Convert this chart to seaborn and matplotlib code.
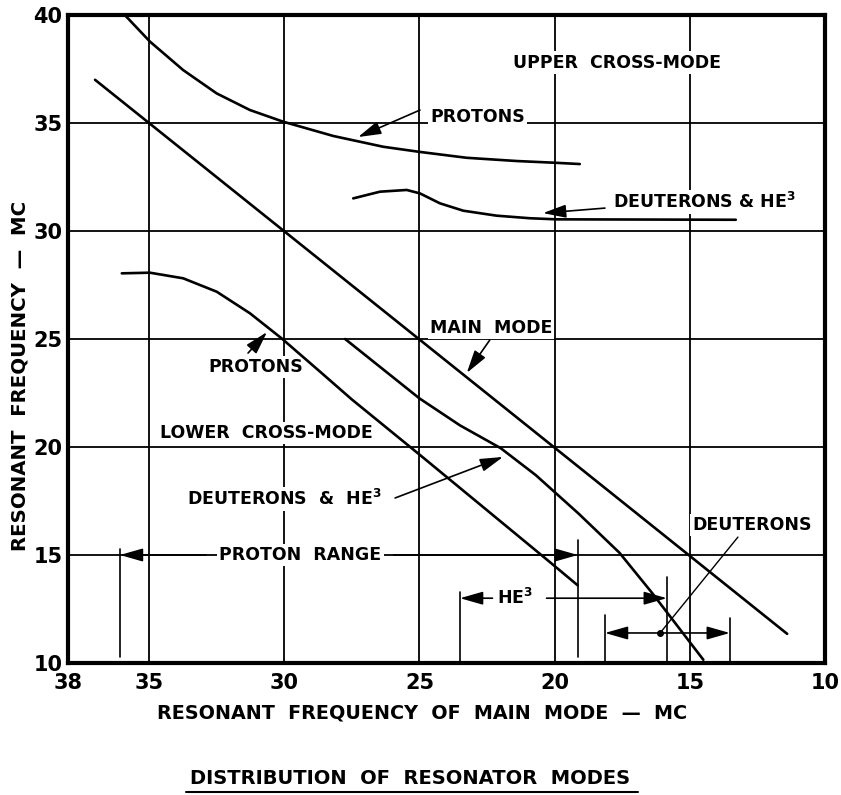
import matplotlib
matplotlib.use("Agg")
import matplotlib.pyplot as plt
import seaborn as sns
import pandas as pd

# ---------------- data ----------------
main_x = [37.0, 11.4]
main_y = [37.0, 11.35]
up_p_x = [35.9, 34.97, 33.74, 32.5, 31.27, 30.04, 28.19, 26.34, 25.04, 23.26, 21.41, 20.0, 19.07]
up_p_y = [40.0, 38.77, 37.45, 36.37, 35.6, 35.06, 34.4, 33.9, 33.67, 33.39, 33.24, 33.16, 33.1]
up_d_x = [27.45, 26.46, 25.47, 24.98, 24.24, 23.38, 22.15, 20.91, 19.93, 13.3]
up_d_y = [31.51, 31.82, 31.9, 31.74, 31.28, 30.94, 30.71, 30.59, 30.54, 30.52]
lo_p_x = [36.01, 34.97, 33.74, 32.5, 31.27, 30.1, 28.68, 27.5, 25.0, 20.3, 19.15]
lo_p_y = [28.04, 28.07, 27.81, 27.19, 26.19, 25.03, 23.49, 22.2, 19.65, 14.8, 13.6]
lo_d_x = [27.75, 25.0, 23.5, 22.0, 20.7, 19.1, 17.6, 16.4, 14.5]
lo_d_y = [25.0, 22.25, 21.0, 19.95, 18.7, 16.9, 15.1, 13.25, 10.15]

x_ticks = [38, 35, 30, 25, 20, 15, 10]
y_ticks = [10, 15, 20, 25, 30, 35, 40]

# ranges (main-mode frequency)
proton_range = (36.08, 19.14)
he3_range = (23.5, 15.85)
deut_range = (18.14, 13.52)

curves = {
    "main": (main_x, main_y),
    "upper_protons": (up_p_x, up_p_y),
    "upper_deut": (up_d_x, up_d_y),
    "lower_protons": (lo_p_x, lo_p_y),
    "lower_deut": (lo_d_x, lo_d_y),
}
rows = []
for name, (xs, ys) in curves.items():
    for i, (a, b) in enumerate(zip(xs, ys)):
        rows.append({"curve": name, "order": i, "x": a, "y": b})
df = pd.DataFrame(rows)

# ---------------- figure ----------------
sns.set_style("white")
plt.rcParams["font.family"] = ["DejaVu Sans"]
plt.rcParams["text.color"] = "black"
fig = plt.figure(figsize=(8.41, 7.95), dpi=100)
ax = fig.add_axes([68 / 841, 1 - 663 / 795, (825 - 68) / 841, (663 - 15) / 795])

for name in curves:
    sub = df[df["curve"] == name]
    sns.lineplot(data=sub, x="x", y="y", sort=False, estimator=None,
                 color="black", lw=1.9, ax=ax, zorder=5)

ax.set_xlim(38, 10)
ax.set_ylim(10, 40)
ax.set_xticks(x_ticks)
ax.set_yticks(y_ticks)
ax.set_xticklabels([str(t) for t in x_ticks], fontsize=15, fontweight="bold", color="black")
ax.set_yticklabels([str(t) for t in y_ticks], fontsize=15, fontweight="bold", color="black")
ax.tick_params(axis="x", length=0, pad=7, colors="black")
ax.tick_params(axis="y", length=0, pad=4, colors="black")
ax.set_xlabel("")
ax.set_ylabel("")
for g in [35, 30, 25, 20, 15]:
    ax.axvline(g, color="black", lw=1.3, zorder=1)
    ax.axhline(g, color="black", lw=1.3, zorder=1)
for s in ax.spines.values():
    s.set_linewidth(3)
    s.set_color("black")
    s.set_zorder(6)

tk = dict(fontsize=12.5, fontweight="bold", color="black", zorder=3,
          bbox=dict(facecolor="white", edgecolor="none", pad=1.5))
aprops = dict(arrowstyle="-|>,head_length=0.7,head_width=0.2", color="black",
              lw=1.2, mutation_scale=20, shrinkA=0, shrinkB=0)

ax.text(17.7, 37.8, "UPPER  CROSS-MODE", ha="center", va="center", **tk)
ax.text(22.84, 35.3, "PROTONS", ha="center", va="center", **tk)
ax.annotate("", xy=(27.27, 34.35), xytext=(24.98, 35.6), arrowprops=aprops, zorder=4)
ax.text(14.48, 31.35, r"DEUTERONS & HE$^{\mathbf{3}}$", ha="center", va="center", **tk)
ax.annotate("", xy=(20.43, 30.83), xytext=(18.14, 31.06), arrowprops=aprops, zorder=4)
ax.text(22.36, 25.5, "MAIN  MODE", ha="center", va="center", **tk)
ax.annotate("", xy=(23.25, 23.43), xytext=(22.4, 24.95), arrowprops=aprops, zorder=4)
ax.text(31.05, 23.7, "PROTONS", ha="center", va="center", **tk)
ax.annotate("", xy=(30.64, 25.32), xytext=(31.34, 24.35), arrowprops=aprops, zorder=4)
ax.text(30.68, 20.65, "LOWER  CROSS-MODE", ha="center", va="center", **tk)
ax.text(30.0, 17.6, r"DEUTERONS  &  HE$^{\mathbf{3}}$", ha="center", va="center", **tk)
ax.annotate("", xy=(21.91, 19.54), xytext=(25.9, 17.64), arrowprops=aprops, zorder=4)

# proton range
ax.text(29.4, 15.0, "PROTON  RANGE", ha="center", va="center", **tk)
ax.annotate("", xy=(proton_range[0], 15.0), xytext=(32.9, 15.0), arrowprops=aprops, zorder=4)
ax.annotate("", xy=(proton_range[1], 15.0), xytext=(25.95, 15.0), arrowprops=aprops, zorder=4)
ax.plot([proton_range[0]] * 2, [10.3, 15.3], color="black", lw=1.2, zorder=2)
ax.plot([proton_range[1]] * 2, [10.3, 15.7], color="black", lw=1.2, zorder=2)

# He3 range
ax.text(21.45, 13.0, r"HE$^{\mathbf{3}}$", ha="center", va="center", **tk)
ax.annotate("", xy=(he3_range[0], 13.0), xytext=(22.3, 13.0), arrowprops=aprops, zorder=4)
ax.annotate("", xy=(he3_range[1], 13.0), xytext=(20.3, 13.0), arrowprops=aprops, zorder=4)
ax.plot([he3_range[0]] * 2, [10.1, 13.3], color="black", lw=1.2, zorder=2)
ax.plot([he3_range[1]] * 2, [10.1, 14.0], color="black", lw=1.2, zorder=2)

# deuteron range
ax.annotate("", xy=(deut_range[0], 11.39), xytext=(16.1, 11.39), arrowprops=aprops, zorder=4)
ax.annotate("", xy=(deut_range[1], 11.39), xytext=(16.1, 11.39), arrowprops=aprops, zorder=4)
ax.plot([deut_range[0]] * 2, [10.1, 12.2], color="black", lw=1.2, zorder=2)
ax.plot([deut_range[1]] * 2, [10.1, 12.1], color="black", lw=1.2, zorder=2)
ax.plot([16.1], [11.39], marker="o", ms=4, color="black", zorder=4)
ax.plot([16.1, 13.22], [11.39, 15.83], color="black", lw=1.0, zorder=4)
ax.text(12.7, 16.4, "DEUTERONS", ha="center", va="center", **tk)

# axis titles
fig.text(422 / 841, 1 - 713 / 795, "RESONANT  FREQUENCY  OF  MAIN  MODE  —  MC",
         ha="center", va="center", fontsize=13.8, fontweight="bold")
fig.text(20 / 841, 1 - 376 / 795, "RESONANT  FREQUENCY  —  MC", rotation=90,
         ha="center", va="center", fontsize=14.2, fontweight="bold")
fig.text(410 / 841, 1 - 778 / 795, "DISTRIBUTION  OF  RESONATOR  MODES",
         ha="center", va="center", fontsize=14, fontweight="bold")
fig.add_artist(plt.Line2D([186 / 841, 638 / 841], [1 - 792 / 795] * 2,
                          color="black", lw=1.5, transform=fig.transFigure))

fig.savefig("out.png", dpi=100, facecolor="white")
